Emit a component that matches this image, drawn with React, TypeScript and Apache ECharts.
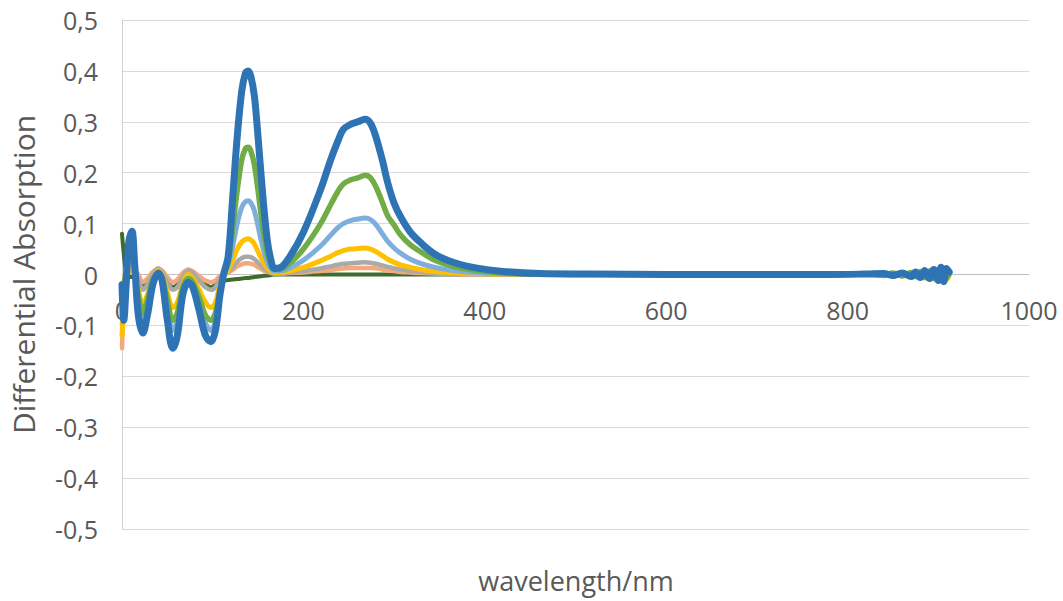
import React, { useEffect, useRef } from "react";
import * as echarts from "echarts";

// Wavelength samples (nm) shared by every spectrum
const wavelength = [
  0, 2, 4, 6, 8, 11, 14, 18, 23, 28,
  34, 40, 44, 50, 56, 61, 67, 73, 78, 85,
  92, 98, 103, 108, 112, 117, 122, 127, 132, 136,
  139, 142, 146, 150, 155, 160, 164, 168, 174, 185,
  200, 219, 230, 238, 244, 252, 260, 268, 274, 280,
  287, 293, 300, 307, 318, 329, 345, 365, 390, 420,
  460, 520, 600, 700, 780, 820, 840, 850, 860, 870,
  875, 880, 885, 890, 895, 900, 903, 906, 909, 912,
];

const darkGreenSeries = [
  0.08, 0.04, 0.01, 0.0, -0.005, -0.005, -0.003, -0.01, -0.02, -0.015,
  -0.005, 0.0, -0.003, -0.015, -0.025, -0.02, -0.008, -0.002, -0.004, -0.012,
  -0.02, -0.025, -0.02, -0.015, -0.012, -0.011, -0.01, -0.009, -0.008, -0.007,
  -0.007, -0.006, -0.005, -0.004, -0.003, -0.002, -0.001, 0.0, 0.0, 0.0,
  0, 0, 0, 0, 0, 0, 0, 0, 0, 0,
  0, 0, 0, 0, 0, 0, 0, 0, 0, 0,
  0, 0, 0, 0, 0, 0, 0, 0.001, -0.001, 0.002,
  -0.002, 0.002, -0.003, 0.003, -0.004, 0.004, -0.005, 0.005, -0.003, 0,
];

const orangeSeries = [
  -0.145, -0.05, 0.0, 0.01, 0.012, 0.015, 0.01, 0.0, -0.015, -0.008,
  0.005, 0.012, 0.008, -0.005, -0.015, -0.01, 0.003, 0.01, 0.006, -0.003,
  -0.012, -0.015, -0.012, -0.003, 0.0, 0.004, 0.009, 0.016, 0.02, 0.022,
  0.022, 0.021, 0.019, 0.014, 0.009, 0.005, 0.003, 0.002, 0.002, 0.003,
  0.004, 0.007, 0.009, 0.011, 0.012, 0.013, 0.013, 0.013, 0.013, 0.012,
  0.01, 0.008, 0.007, 0.005, 0.004, 0.003, 0.002, 0.001, 0.0, 0.0,
  0.0, 0.0, 0.0, 0.0, 0.0, 0.0, 0.0, 0.002, -0.002, 0.003,
  -0.003, 0.004, -0.005, 0.005, -0.006, 0.007, -0.008, 0.008, -0.006, 0.0,
];

const graySeries = [
  -0.1, -0.04, -0.01, 0.005, 0.01, 0.012, 0.008, -0.01, -0.03, -0.02,
  0.0, 0.012, 0.005, -0.015, -0.03, -0.025, -0.005, 0.008, 0.003, -0.012,
  -0.025, -0.03, -0.025, -0.008, 0.0, 0.005, 0.014, 0.025, 0.032, 0.035,
  0.035, 0.034, 0.03, 0.023, 0.014, 0.007, 0.004, 0.003, 0.003, 0.004,
  0.007, 0.012, 0.016, 0.019, 0.021, 0.022, 0.023, 0.024, 0.023, 0.021,
  0.018, 0.015, 0.012, 0.01, 0.007, 0.005, 0.003, 0.002, 0.001, 0.0,
  0.0, 0.0, 0.0, 0.0, 0.0, 0.0, 0.001, -0.002, 0.003, -0.003,
  0.004, -0.004, 0.006, -0.007, 0.008, -0.01, 0.009, -0.012, 0.01, 0.0,
];

const yellowSeries = [
  -0.12, -0.06, -0.02, 0.0, 0.005, 0.01, 0.0, -0.03, -0.06, -0.04,
  -0.01, 0.008, 0.0, -0.035, -0.065, -0.055, -0.02, 0.0, -0.008, -0.03,
  -0.055, -0.065, -0.055, -0.02, -0.003, 0.008, 0.028, 0.05, 0.064, 0.069,
  0.07, 0.068, 0.06, 0.045, 0.027, 0.013, 0.007, 0.004, 0.004, 0.007,
  0.014, 0.027, 0.036, 0.043, 0.047, 0.05, 0.051, 0.052, 0.05, 0.045,
  0.037, 0.03, 0.024, 0.019, 0.014, 0.01, 0.006, 0.004, 0.002, 0.001,
  0.0, 0.0, 0.0, 0.0, 0.0, 0.0, -0.001, 0.002, -0.003, 0.003,
  -0.005, 0.005, -0.007, 0.006, -0.009, 0.008, -0.012, 0.009, -0.01, -0.002,
];

const lightBlueSeries = [
  -0.08, -0.04, -0.01, 0.01, 0.02, 0.025, 0.0, -0.05, -0.09, -0.06,
  -0.015, 0.0, -0.008, -0.06, -0.11, -0.09, -0.03, -0.01, -0.018, -0.055,
  -0.095, -0.11, -0.09, -0.035, -0.002, 0.018, 0.055, 0.1, 0.132, 0.143,
  0.145, 0.141, 0.125, 0.095, 0.055, 0.025, 0.012, 0.007, 0.007, 0.013,
  0.028, 0.056, 0.077, 0.092, 0.1, 0.106, 0.109, 0.111, 0.108, 0.098,
  0.08, 0.065, 0.052, 0.042, 0.03, 0.022, 0.014, 0.008, 0.004, 0.002,
  0.0, 0.0, 0.0, 0.0, 0.0, 0.0, 0.001, -0.002, 0.002, -0.003,
  0.004, -0.005, 0.005, -0.006, 0.008, -0.009, 0.01, -0.01, 0.008, 0.002,
];

const greenSeries = [
  -0.05, -0.02, 0.0, 0.02, 0.03, 0.04, 0.01, -0.04, -0.075, -0.05,
  -0.01, 0.0, -0.005, -0.05, -0.09, -0.075, -0.025, -0.008, -0.015, -0.045,
  -0.08, -0.09, -0.075, -0.03, 0.0, 0.025, 0.09, 0.165, 0.225, 0.247,
  0.25, 0.243, 0.215, 0.165, 0.095, 0.042, 0.02, 0.01, 0.01, 0.022,
  0.05, 0.1, 0.137, 0.163, 0.178, 0.186, 0.19, 0.195, 0.19, 0.172,
  0.142, 0.115, 0.097, 0.078, 0.058, 0.045, 0.028, 0.016, 0.008, 0.003,
  0.001, 0.0, 0.0, 0.0, 0.0, 0.001, -0.002, 0.003, -0.003, 0.004,
  -0.004, 0.006, -0.006, 0.007, -0.008, 0.01, -0.01, 0.011, -0.008, 0.004,
];

const blueSeries = [
  -0.02, -0.09, -0.04, 0.03, 0.07, 0.085, 0.02, -0.08, -0.115, -0.08,
  -0.02, 0.003, -0.01, -0.09, -0.145, -0.12, -0.04, -0.015, -0.025, -0.07,
  -0.12, -0.132, -0.11, -0.04, 0.0, 0.035, 0.15, 0.27, 0.36, 0.395,
  0.4, 0.39, 0.35, 0.27, 0.16, 0.07, 0.03, 0.012, 0.013, 0.035,
  0.083, 0.167, 0.225, 0.262, 0.285, 0.295, 0.3, 0.305, 0.297, 0.27,
  0.225, 0.18, 0.14, 0.114, 0.083, 0.063, 0.04, 0.024, 0.013, 0.006,
  0.002, 0.001, 0.0, 0.0, 0.0, 0.001, 0.002, -0.002, 0.003, -0.004,
  0.005, -0.006, 0.008, -0.008, 0.01, -0.012, 0.014, -0.014, 0.012, 0.005,
];

// Spectra in drawing order (the strongest one ends up on top)
const spectra = [
  { name: "S1", values: darkGreenSeries, color: "#3F6B2C", width: 4 },
  { name: "S2", values: orangeSeries, color: "#F4A97C", width: 4.5 },
  { name: "S3", values: graySeries, color: "#A9A9A9", width: 4.5 },
  { name: "S4", values: yellowSeries, color: "#FFC000", width: 5 },
  { name: "S5", values: lightBlueSeries, color: "#7EAEDB", width: 5 },
  { name: "S6", values: greenSeries, color: "#70AD47", width: 5.5 },
  { name: "S7", values: blueSeries, color: "#2E74B5", width: 7 },
];

const FONT = "'Open Sans', sans-serif";
const TEXT = "#595959";

// Plot frame in pixels; the x axis sits on the y = 0 line, half way down
const GRID_TOP = 20;
const GRID_BOTTOM = 72;
const CHART_H = 601;
const ZERO_SHIFT = (CHART_H - GRID_TOP - GRID_BOTTOM) / 2;

export default function App() {
  const ref = useRef<HTMLDivElement>(null);

  useEffect(() => {
    if (!ref.current) return;
    const chart = echarts.init(ref.current, null, { renderer: "svg" });
    chart.setOption({
      animation: false,
      backgroundColor: "#ffffff",
      grid: { left: 121, right: 34, top: GRID_TOP, bottom: GRID_BOTTOM, containLabel: false },
      xAxis: {
        type: "value",
        min: 0,
        max: 1000,
        interval: 200,
        offset: -ZERO_SHIFT,
        axisLine: { onZero: false, lineStyle: { color: "#BFBFBF", width: 1 } },
        axisTick: { show: false },
        splitLine: { show: false },
        axisLabel: {
          color: TEXT,
          fontFamily: FONT,
          fontSize: 25,
          margin: 23,
          formatter: (v: number) => String(v),
        },
      },
      yAxis: {
        type: "value",
        min: -0.5,
        max: 0.5,
        interval: 0.1,
        name: "Differential Absorption",
        nameLocation: "middle",
        nameGap: 84,
        nameTextStyle: { color: TEXT, fontFamily: FONT, fontSize: 30 },
        axisLine: { show: true, lineStyle: { color: "#D0D0D0", width: 1 } },
        axisTick: { show: false },
        splitLine: { lineStyle: { color: "#D9D9D9", width: 1 } },
        axisLabel: {
          color: TEXT,
          fontFamily: FONT,
          fontSize: 25,
          margin: 24,
          formatter: (v: number) =>
            Math.abs(v) < 1e-9 ? "0" : v.toFixed(1).replace(".", ","),
        },
      },
      graphic: [
        {
          type: "text",
          x: 576,
          y: 580,
          style: {
            text: "wavelength/nm",
            fill: TEXT,
            font: `27px ${FONT}`,
            textAlign: "center",
            textVerticalAlign: "middle",
          },
        },
      ],
      series: spectra.map((s) => ({
        name: s.name,
        type: "line",
        data: wavelength.map((x, i) => [x, s.values[i]]),
        showSymbol: false,
        smooth: 0.35,
        lineStyle: { color: s.color, width: s.width, cap: "round", join: "round" },
        itemStyle: { color: s.color },
      })),
    });
    return () => chart.dispose();
  }, []);

  return (
    <div
      ref={ref}
      style={{ position: "absolute", left: 0, top: 0, width: 1063, height: CHART_H }}
    />
  );
}
